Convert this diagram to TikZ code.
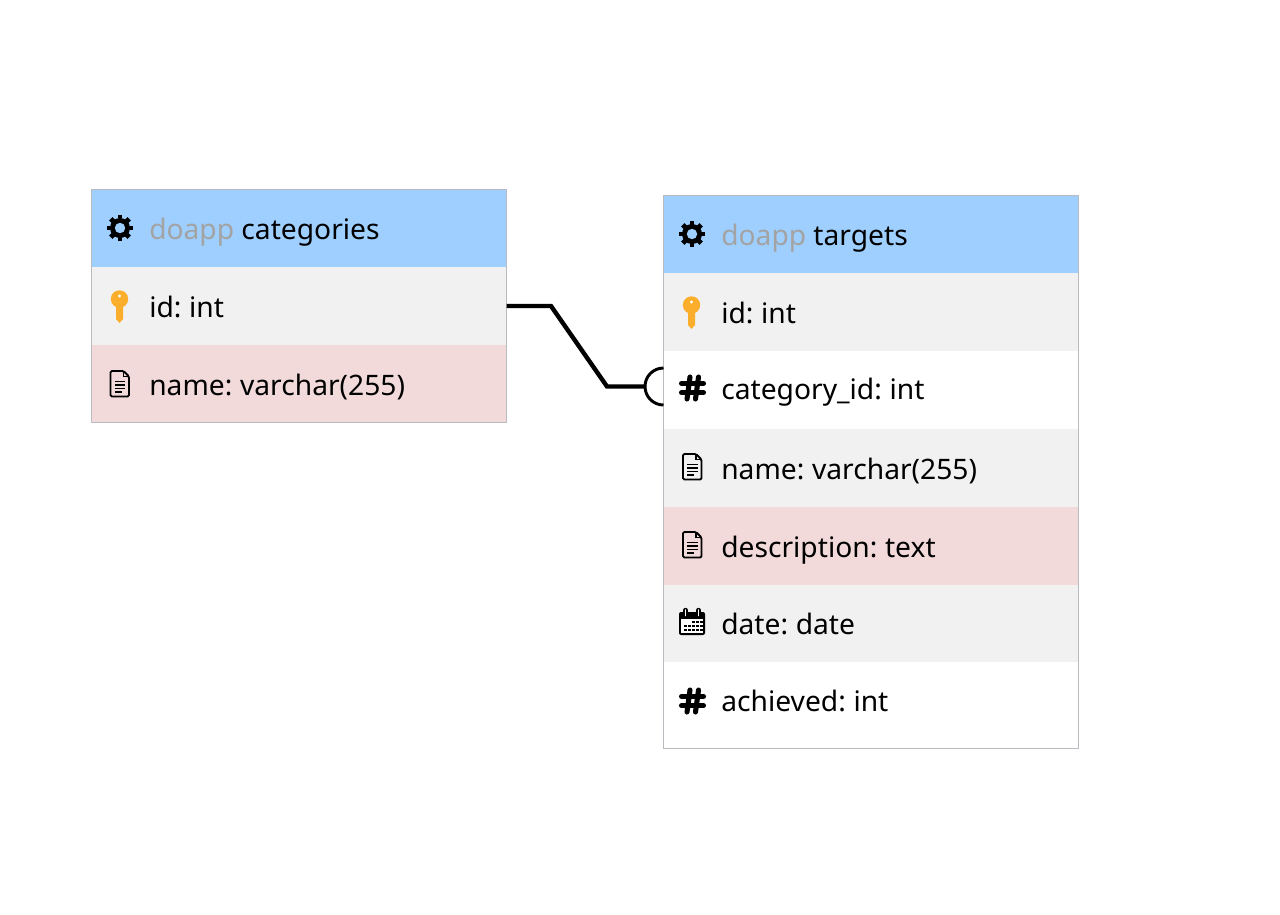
\documentclass[tikz,border=0pt]{standalone}
\usepackage{fontspec}
\setmainfont[WordSpace=0.72]{Noto Sans}
\definecolor{hdblue}{HTML}{9ECFFF}
\definecolor{rowgrey}{HTML}{F1F1F1}
\definecolor{rowpink}{HTML}{F3DADA}
\definecolor{dbgrey}{HTML}{A3A3A3}
\definecolor{framegrey}{HTML}{B8BCC0}
\definecolor{keyorange}{HTML}{FBAE2C}
\tikzset{
  rowbox/.style={anchor=north west,inner sep=0pt,outer sep=0pt,minimum width=311.25pt,minimum height=#1*0.75pt},
  rowbox/.default=78,
  txt/.style={anchor=base west,inner sep=0pt,font=\fontsize{21.15}{25}\selectfont},
  tableframe/.style={draw=framegrey,line width=0.75pt},
  rel/.style={line width=3.3pt,line join=miter},
  gearicon/.pic={
    \foreach \a in {0,45,...,315} \draw [line width=3.6pt] (\a:7) -- (\a:13);
    \fill (0,0) circle (10);
    \fill [hdblue] (0,0) circle (5.2);
  },
  keyicon/.pic={
    \fill [keyorange] (-3.5,6) -- (3.5,6) -- (3.5,20) -- (0,24) -- (-3.5,20) -- cycle;
    \fill [keyorange] (0,0) circle (8.7);
    \fill [white] (0,-3) circle (1.6);
  },
  docicon/.pic={
    \draw [line width=1.4pt,line join=round,rounded corners=1] (-9,-13) -- (4,-13) -- (9.5,-7.5) -- (9.5,12.5) -- (-9,12.5) -- cycle;
    \draw [line width=1pt] (4,-13) -- (4,-7.5) -- (9.5,-7.5);
    \foreach \y in {-2.5,1,4.5} \draw [line width=1.1pt] (-5,\y) -- (5.5,\y);
    \draw [line width=1.1pt] (-5,8) -- (2,8);
  },
  hashicon/.pic={
    \draw [line width=3.8pt,line cap=round] (-11,-4.6) -- (11,-4.6);
    \draw [line width=3.8pt,line cap=round] (-11,4.6) -- (11,4.6);
    \draw [line width=3.8pt,line cap=round] (-2.5,-11) -- (-5.5,11);
    \draw [line width=3.8pt,line cap=round] (6,-11) -- (3,11);
  },
  calicon/.pic={
    \fill [rounded corners=1.5] (-13,-10) rectangle (13,13);
    \fill [white] (-11.3,-3) rectangle (11.3,11.4);
    \foreach \x in {-7,-3,1,5,9} \foreach \y in {4,8} \fill (\x-1.5,\y-1.4) rectangle (\x+1.5,\y+1.4);
    \foreach \x in {1,5,9} \fill (\x-1.5,-1.4) rectangle (\x+1.5,1.4);
    \foreach \x in {-6.5,6.5} {
      \draw [line width=3.2pt,line cap=round] (\x,-12) -- (\x,-6.5);
      \draw [white,line width=1.2pt,line cap=round] (\x,-12) -- (\x,-6.5);
    }
  },
}
\begin{document}
\begin{tikzpicture}[x=0.75pt,y=-0.75pt]
\useasboundingbox (0,0) rectangle (1280,914);
\fill [white] (0,0) rectangle (1280,914);

% categories
\node [rowbox,fill=hdblue] (cathead) at (91.5,189.5) {};
\node [rowbox,fill=rowgrey] (catid) at (91.5,267) {};
\node [rowbox=77.5,fill=rowpink] (catname) at (91.5,345) {};
\draw [tableframe] (cathead.north west) rectangle (catname.south east);
\pic at (120,228) {gearicon};
\pic at (119.5,299) {keyicon};
\pic at (119.5,384) {docicon};
\node [txt] (cathtxt) at (149,239) {\textcolor{dbgrey}{doapp}\kern1.5pt\ categories};
\node [txt] (catidtxt) at (149,317) {id: int};
\node [txt] (catnametxt) at (149,395) {name: varchar(255)};

% targets
\node [rowbox,fill=hdblue] (tgthead) at (663.5,195.5) {};
\node [rowbox,fill=rowgrey] (tgtid) at (663.5,273) {};
\node [rowbox,fill=white] (tgtcat) at (663.5,351) {};
\node [rowbox,fill=rowgrey] (tgtname) at (663.5,429) {};
\node [rowbox,fill=rowpink] (tgtdesc) at (663.5,507) {};
\node [rowbox,fill=rowgrey] (tgtdate) at (663.5,584.5) {};
\node [rowbox=86.5,fill=white] (tgtach) at (663.5,662) {};
\draw [tableframe] (tgthead.north west) rectangle (tgtach.south east);
\pic at (692,234) {gearicon};
\pic at (691.5,305) {keyicon};
\pic at (692.5,388) {hashicon};
\pic at (692,467) {docicon};
\pic at (692,545) {docicon};
\pic at (692,622) {calicon};
\pic at (692.5,701) {hashicon};
\node [txt] (tgthtxt) at (721,245) {\textcolor{dbgrey}{doapp}\kern1.5pt\ targets};
\node [txt] (tgtidtxt) at (721,323) {id: int};
\node [txt] (tgtcattxt) at (721,399) {category\_id: int};
\node [txt] (tgtnametxt) at (721,479) {name: varchar(255)};
\node [txt] (tgtdesctxt) at (721,557) {description: text};
\node [txt] (tgtdatetxt) at (721,634) {date: date};
\node [txt] (tgtachtxt) at (721,711) {achieved: int};

% relation
\coordinate (relend) at (646,386.5);
\draw [rel] (catid.east) -- ++(44.5,0) -- (607,386.5) -- (relend);
\draw [line width=2.2pt] (663.5,405) arc (90:270:18.5);
\end{tikzpicture}
\end{document}
